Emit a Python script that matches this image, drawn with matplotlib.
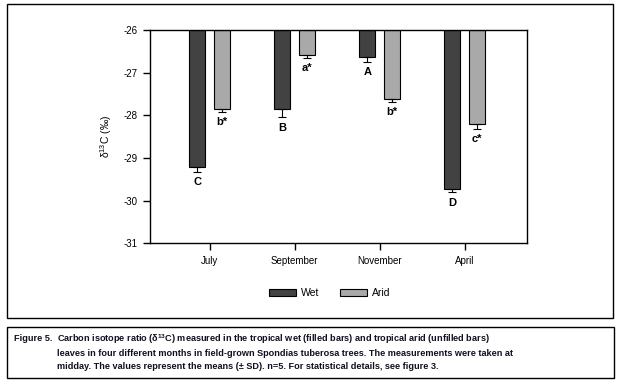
import numpy as np
import matplotlib
matplotlib.use('Agg')
from matplotlib import pyplot as plt
from matplotlib.patches import Rectangle

plt.rcParams['font.family'] = ['Liberation Sans', 'DejaVu Sans']
plt.rcParams['mathtext.fontset'] = 'custom'
plt.rcParams['mathtext.rm'] = 'Liberation Sans'
plt.rcParams['mathtext.bf'] = 'Liberation Sans:bold'

months = ['July', 'September', 'November', 'April']
wet = [-29.21, -27.86, -26.63, -29.74]
wet_sd = [0.12, 0.19, 0.11, 0.07]
arid = [-27.85, -26.59, -27.61, -28.20]
arid_sd = [0.06, 0.07, 0.085, 0.11]
wet_letters = ['C', 'B', 'A', 'D']
arid_letters = ['b*', 'a*', 'b*', 'c*']

fig_label = 'Figure 5.'
caption_lines = [
    'Carbon isotope ratio (δ$\\mathbf{^{13}}$C) measured in the tropical wet (filled bars) '
    'and tropical arid (unfilled bars)',
    'leaves in four different months in field-grown Spondias tuberosa trees. '
    'The measurements were taken at',
    'midday. The values represent the means (± SD). n=5. '
    'For statistical details, see figure 3.',
]

fig = plt.figure(figsize=(6.22, 3.86), dpi=100)

# frames around the plot and caption
fig.patches.append(Rectangle((0.011, 0.176), 0.974, 0.814, transform=fig.transFigure,
                             fill=False, lw=1.0, ec='black'))
fig.patches.append(Rectangle((0.011, 0.021), 0.976, 0.132, transform=fig.transFigure,
                             fill=False, lw=1.0, ec='black'))

ax = fig.add_axes([0.241, 0.370, 0.606, 0.552])

x = np.arange(len(months))
off = 0.147
w = 0.185
top = -26
wet_h = [v - top for v in wet]
arid_h = [v - top for v in arid]

b1 = ax.bar(x - off, wet_h, w, bottom=top, color='#424242', edgecolor='black', lw=0.8, label='Wet')
b2 = ax.bar(x + off, arid_h, w, bottom=top, color='#a9a9a9', edgecolor='black', lw=0.8, label='Arid')

ax.errorbar(x - off, wet, yerr=[wet_sd, [0] * 4], fmt='none', ecolor='black', elinewidth=0.8,
            capsize=3, capthick=0.8)
ax.errorbar(x + off, arid, yerr=[arid_sd, [0] * 4], fmt='none', ecolor='black', elinewidth=0.8,
            capsize=3, capthick=0.8)

for i in range(len(months)):
    ax.text(x[i] - off, wet[i] - wet_sd[i] - 0.12, wet_letters[i], ha='center', va='top',
            fontsize=8, fontweight='bold')
    ax.text(x[i] + off, arid[i] - arid_sd[i] - 0.12, arid_letters[i], ha='center', va='top',
            fontsize=8, fontweight='bold')

ax.set_ylim(-31, -26)
ax.set_xlim(-0.705, 3.73)
ax.set_yticks([-26, -27, -28, -29, -30, -31])
ax.set_yticklabels(['-26', '-27', '-28', '-29', '-30', '-31'])
ax.set_xticks(x)
ax.set_xticklabels(months)
ax.tick_params(direction='out', length=5, width=1, labelsize=7, pad=4)
for s in ax.spines.values():
    s.set_linewidth(1)
ax.set_ylabel('δ$^{13}$C (‰)', fontsize=7.5, labelpad=7)

fig.legend(handles=[b1, b2], labels=['Wet', 'Arid'], loc='center', bbox_to_anchor=(0.53, 0.24),
           ncol=2, frameon=False, fontsize=7.5, handlelength=2.6, handleheight=0.7,
           columnspacing=2.0, handletextpad=0.5)

fig.text(0.022, 0.122, fig_label, fontsize=6.6, fontweight='bold', va='center',
         ha='left', color='#101020')
for k, line in enumerate(caption_lines):
    fig.text(0.091, [0.122, 0.085, 0.050][k], line, fontsize=6.6, fontweight='bold',
             va='center', ha='left', color='#101020')

fig.savefig('out.png', dpi=100)
